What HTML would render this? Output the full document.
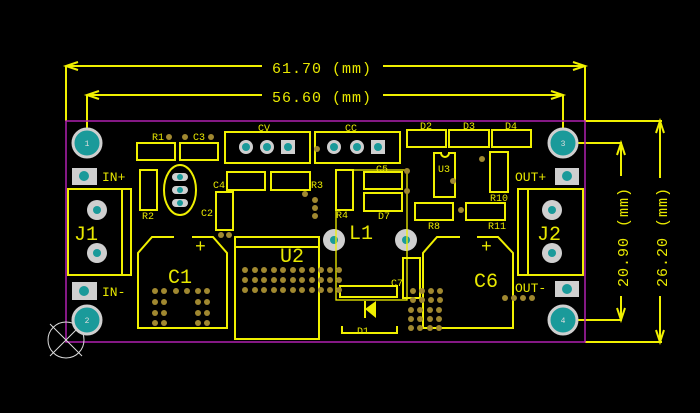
<!DOCTYPE html>
<html><head><style>
html,body{margin:0;padding:0;background:#000;}
svg{display:block;}
text{font-family:"Liberation Mono","DejaVu Sans Mono",monospace;fill:#e8e800;}
</style></head><body>
<svg width="700" height="413" viewBox="0 0 700 413" xmlns="http://www.w3.org/2000/svg">
<rect width="700" height="413" fill="#000"/>
<!-- dimension lines -->
<g stroke="#f0f000" stroke-width="2" fill="none">
<line x1="66" y1="66" x2="66" y2="121"/><line x1="585" y1="66" x2="585" y2="121"/>
<line x1="66" y1="66" x2="262" y2="66"/><line x1="383" y1="66" x2="585" y2="66"/>
<polyline points="78,62 66,66 78,70"/><polyline points="573,62 585,66 573,70"/>
<line x1="87" y1="95" x2="87" y2="130"/><line x1="563" y1="95" x2="563" y2="130"/>
<line x1="87" y1="95" x2="262" y2="95"/><line x1="383" y1="95" x2="563" y2="95"/>
<polyline points="99,91 87,95 99,99"/><polyline points="551,91 563,95 551,99"/>
<line x1="585" y1="121" x2="662" y2="121"/><line x1="585" y1="342" x2="662" y2="342"/>
<line x1="660" y1="121" x2="660" y2="178"/><line x1="660" y1="296" x2="660" y2="342"/>
<polyline points="656,133 660,121 664,133"/><polyline points="656,330 660,342 664,330"/>
<line x1="578" y1="143" x2="622" y2="143"/><line x1="578" y1="320" x2="622" y2="320"/>
<line x1="621" y1="143" x2="621" y2="176"/><line x1="621" y1="296" x2="621" y2="320"/>
<polyline points="617,155 621,143 625,155"/><polyline points="617,308 621,320 625,308"/>
</g>
<text x="322" y="73" font-size="15" text-anchor="middle" letter-spacing="1">61.70 (mm)</text>
<text x="322" y="102" font-size="15" text-anchor="middle" letter-spacing="1">56.60 (mm)</text>
<text transform="translate(628,237) rotate(-90)" font-size="15" text-anchor="middle" letter-spacing="1">20.90 (mm)</text>
<text transform="translate(667,237) rotate(-90)" font-size="15" text-anchor="middle" letter-spacing="1">26.20 (mm)</text>
<!-- board outline -->
<rect x="66" y="121" width="519" height="221" fill="none" stroke="#b020b0" stroke-width="1.5"/>
<!-- crosshair -->
<g stroke="#ddd" stroke-width="1" fill="none"><circle cx="66" cy="340" r="18"/><line x1="50" y1="324" x2="82" y2="356"/><line x1="50" y1="356" x2="82" y2="324"/></g>
<!-- mounting holes -->
<g fill="#1a9a9a" stroke="#cfcfcf" stroke-width="3">
<circle cx="87" cy="143" r="14"/><circle cx="87" cy="320" r="14"/><circle cx="563" cy="143" r="14"/><circle cx="563" cy="320" r="14"/></g>
<g font-size="8" fill="#ccc" text-anchor="middle"><text x="87" y="146" style="fill:#ddd">1</text><text x="87" y="323" style="fill:#ddd">2</text><text x="563" y="146" style="fill:#ddd">3</text><text x="563" y="323" style="fill:#ddd">4</text></g>
<!-- pads -->
<g fill="#cfcfcf"><rect x="72" y="168" width="25" height="17"/><rect x="72" y="282" width="25" height="18"/><rect x="555" y="168" width="24" height="17"/><rect x="555" y="281" width="24" height="16"/>
<circle cx="97" cy="210" r="10"/><circle cx="97" cy="253" r="10"/><circle cx="552" cy="210" r="10"/><circle cx="552" cy="253" r="10"/>
<circle cx="334" cy="240" r="11"/><circle cx="406" cy="240" r="11"/></g>
<g fill="#1a9a9a"><circle cx="84" cy="176" r="5"/><circle cx="84" cy="291" r="5"/><circle cx="567" cy="176" r="5"/><circle cx="567" cy="289" r="5"/>
<circle cx="97" cy="210" r="4"/><circle cx="97" cy="253" r="4"/><circle cx="552" cy="210" r="4"/><circle cx="552" cy="253" r="4"/><circle cx="334" cy="240" r="4"/><circle cx="406" cy="240" r="4"/></g>
<!-- silkscreen -->
<g stroke="#f0f000" stroke-width="2" fill="none">
<rect x="68" y="189" width="63" height="86"/><line x1="122" y1="189" x2="122" y2="275"/>
<rect x="518" y="189" width="65" height="86"/><line x1="528" y1="189" x2="528" y2="275"/>
<polyline points="174,237 152,237 138,253 138,328 227,328 227,253 213,237 192,237"/>
<polyline points="460,237 437,237 423,253 423,328 513,328 513,253 498,237 477,237"/>
<rect x="235" y="237" width="84" height="102"/><line x1="235" y1="247" x2="319" y2="247"/>
<rect x="225" y="132" width="85" height="31"/><rect x="315" y="132" width="85" height="31"/>
<ellipse cx="180" cy="190" rx="16" ry="25"/>
<rect x="137" y="143" width="38" height="17"/><rect x="180" y="143" width="38" height="17"/>
<rect x="140" y="170" width="17" height="40"/>
<rect x="227" y="172" width="38" height="18"/><rect x="271" y="172" width="39" height="18"/>
<rect x="216" y="192" width="17" height="38"/>
<rect x="336" y="170" width="71" height="130" stroke-width="1.3"/>
<rect x="336" y="170" width="17" height="40"/>
<rect x="364" y="172" width="38" height="17"/><rect x="364" y="193" width="38" height="18"/>
<rect x="403" y="258" width="17" height="40"/>
<rect x="340" y="286" width="57" height="11"/>
<polyline points="342,326 342,333 397,333 397,326"/>
<rect x="407" y="130" width="39" height="17"/><rect x="449" y="130" width="40" height="17"/><rect x="492" y="130" width="39" height="17"/>
<path d="M434,153 H441 A4,4 0 0 0 449,153 H455 V197 H434 Z"/>
<rect x="490" y="152" width="18" height="40"/>
<rect x="415" y="203" width="38" height="17"/><rect x="466" y="203" width="39" height="17"/>
</g>
<polygon points="376,301 376,318 365,309" fill="#f0f000"/>
<line x1="365" y1="301" x2="365" y2="318" stroke="#f0f000" stroke-width="2"/>
<!-- transistor pads -->
<g fill="#cfcfcf"><rect x="172" y="173" width="16" height="8" rx="4"/><rect x="172" y="186" width="16" height="8" rx="4"/><rect x="172" y="199" width="16" height="8" rx="4"/></g>
<g fill="#1a9a9a"><circle cx="180" cy="177" r="3"/><circle cx="180" cy="190" r="3"/><circle cx="180" cy="203" r="3"/></g>
<!-- header pads -->
<g fill="#cfcfcf"><circle cx="246" cy="147" r="7"/><circle cx="267" cy="147" r="7"/><rect x="281" y="140" width="14" height="14"/>
<circle cx="334" cy="147" r="7"/><circle cx="357" cy="147" r="7"/><rect x="371" y="140" width="14" height="14"/></g>
<g fill="#1a9a9a"><circle cx="246" cy="147" r="4"/><circle cx="267" cy="147" r="4"/><circle cx="288" cy="147" r="4"/><circle cx="334" cy="147" r="4"/><circle cx="357" cy="147" r="4"/><circle cx="378" cy="147" r="4"/></g>
<!-- vias -->
<g fill="#a08830">
<circle cx="155" cy="291" r="3"/><circle cx="164" cy="291" r="3"/><circle cx="176" cy="291" r="3"/><circle cx="187" cy="291" r="3"/><circle cx="198" cy="291" r="3"/><circle cx="207" cy="291" r="3"/>
<circle cx="155" cy="302" r="3"/><circle cx="164" cy="302" r="3"/><circle cx="198" cy="302" r="3"/><circle cx="207" cy="302" r="3"/>
<circle cx="155" cy="313" r="3"/><circle cx="164" cy="313" r="3"/><circle cx="198" cy="313" r="3"/><circle cx="207" cy="313" r="3"/>
<circle cx="155" cy="323" r="3"/><circle cx="164" cy="323" r="3"/><circle cx="198" cy="323" r="3"/><circle cx="207" cy="323" r="3"/>
<circle cx="221" cy="235" r="3"/><circle cx="229" cy="235" r="3"/>
<circle cx="305" cy="194" r="3"/><circle cx="315" cy="200" r="3"/><circle cx="315" cy="208" r="3"/><circle cx="315" cy="216" r="3"/>
<circle cx="407" cy="171" r="3"/><circle cx="407" cy="191" r="3"/><circle cx="317" cy="149" r="3"/><circle cx="482" cy="159" r="3"/><circle cx="453" cy="181" r="3"/><circle cx="461" cy="210" r="3"/>
<circle cx="169" cy="137" r="3"/><circle cx="185" cy="137" r="3"/><circle cx="211" cy="137" r="3"/>
<circle cx="505" cy="298" r="3"/><circle cx="514" cy="298" r="3"/><circle cx="523" cy="298" r="3"/><circle cx="532" cy="298" r="3"/>
</g>
<g fill="#a08830">
<g id="u2r"><circle cx="245" cy="270" r="3"/><circle cx="255" cy="270" r="3"/><circle cx="264" cy="270" r="3"/><circle cx="274" cy="270" r="3"/><circle cx="283" cy="270" r="3"/><circle cx="293" cy="270" r="3"/><circle cx="302" cy="270" r="3"/><circle cx="312" cy="270" r="3"/><circle cx="321" cy="270" r="3"/><circle cx="330" cy="270" r="3"/><circle cx="339" cy="270" r="3"/></g>
<use href="#u2r" y="10"/><use href="#u2r" y="20"/>
<circle cx="413" cy="291" r="3"/><circle cx="422" cy="291" r="3"/><circle cx="431" cy="291" r="3"/><circle cx="440" cy="291" r="3"/>
<circle cx="413" cy="300" r="3"/><circle cx="422" cy="300" r="3"/><circle cx="431" cy="300" r="3"/><circle cx="440" cy="300" r="3"/>
<circle cx="411" cy="310" r="3"/><circle cx="420" cy="310" r="3"/><circle cx="430" cy="310" r="3"/><circle cx="439" cy="310" r="3"/>
<circle cx="411" cy="319" r="3"/><circle cx="420" cy="319" r="3"/><circle cx="430" cy="319" r="3"/><circle cx="439" cy="319" r="3"/>
<circle cx="411" cy="328" r="3"/><circle cx="420" cy="328" r="3"/><circle cx="430" cy="328" r="3"/><circle cx="439" cy="328" r="3"/>
</g>
<!-- labels -->
<g font-size="13"><text x="102" y="181">IN+</text><text x="102" y="296">IN-</text><text x="515" y="181">OUT+</text><text x="515" y="292">OUT-</text></g>
<g font-size="20"><text x="74" y="240">J1</text><text x="537" y="240">J2</text><text x="168" y="283">C1</text><text x="280" y="262">U2</text><text x="474" y="287">C6</text><text x="349" y="239">L1</text></g>
<g font-size="18"><text x="195" y="252">+</text><text x="481" y="252">+</text></g>
<g font-size="10"><text x="152" y="140">R1</text><text x="193" y="140">C3</text><text x="142" y="219">R2</text><text x="258" y="131">CV</text><text x="345" y="131">CC</text>
<text x="213" y="188">C4</text><text x="311" y="188">R3</text><text x="201" y="216">C2</text><text x="336" y="218">R4</text><text x="376" y="172">C5</text><text x="378" y="219">D7</text>
<text x="391" y="286">C7</text><text x="357" y="334">D1</text><text x="420" y="129">D2</text><text x="463" y="129">D3</text><text x="505" y="129">D4</text>
<text x="438" y="172">U3</text><text x="490" y="201">R10</text><text x="428" y="229">R8</text><text x="488" y="229">R11</text></g>
</svg>
</body></html>
